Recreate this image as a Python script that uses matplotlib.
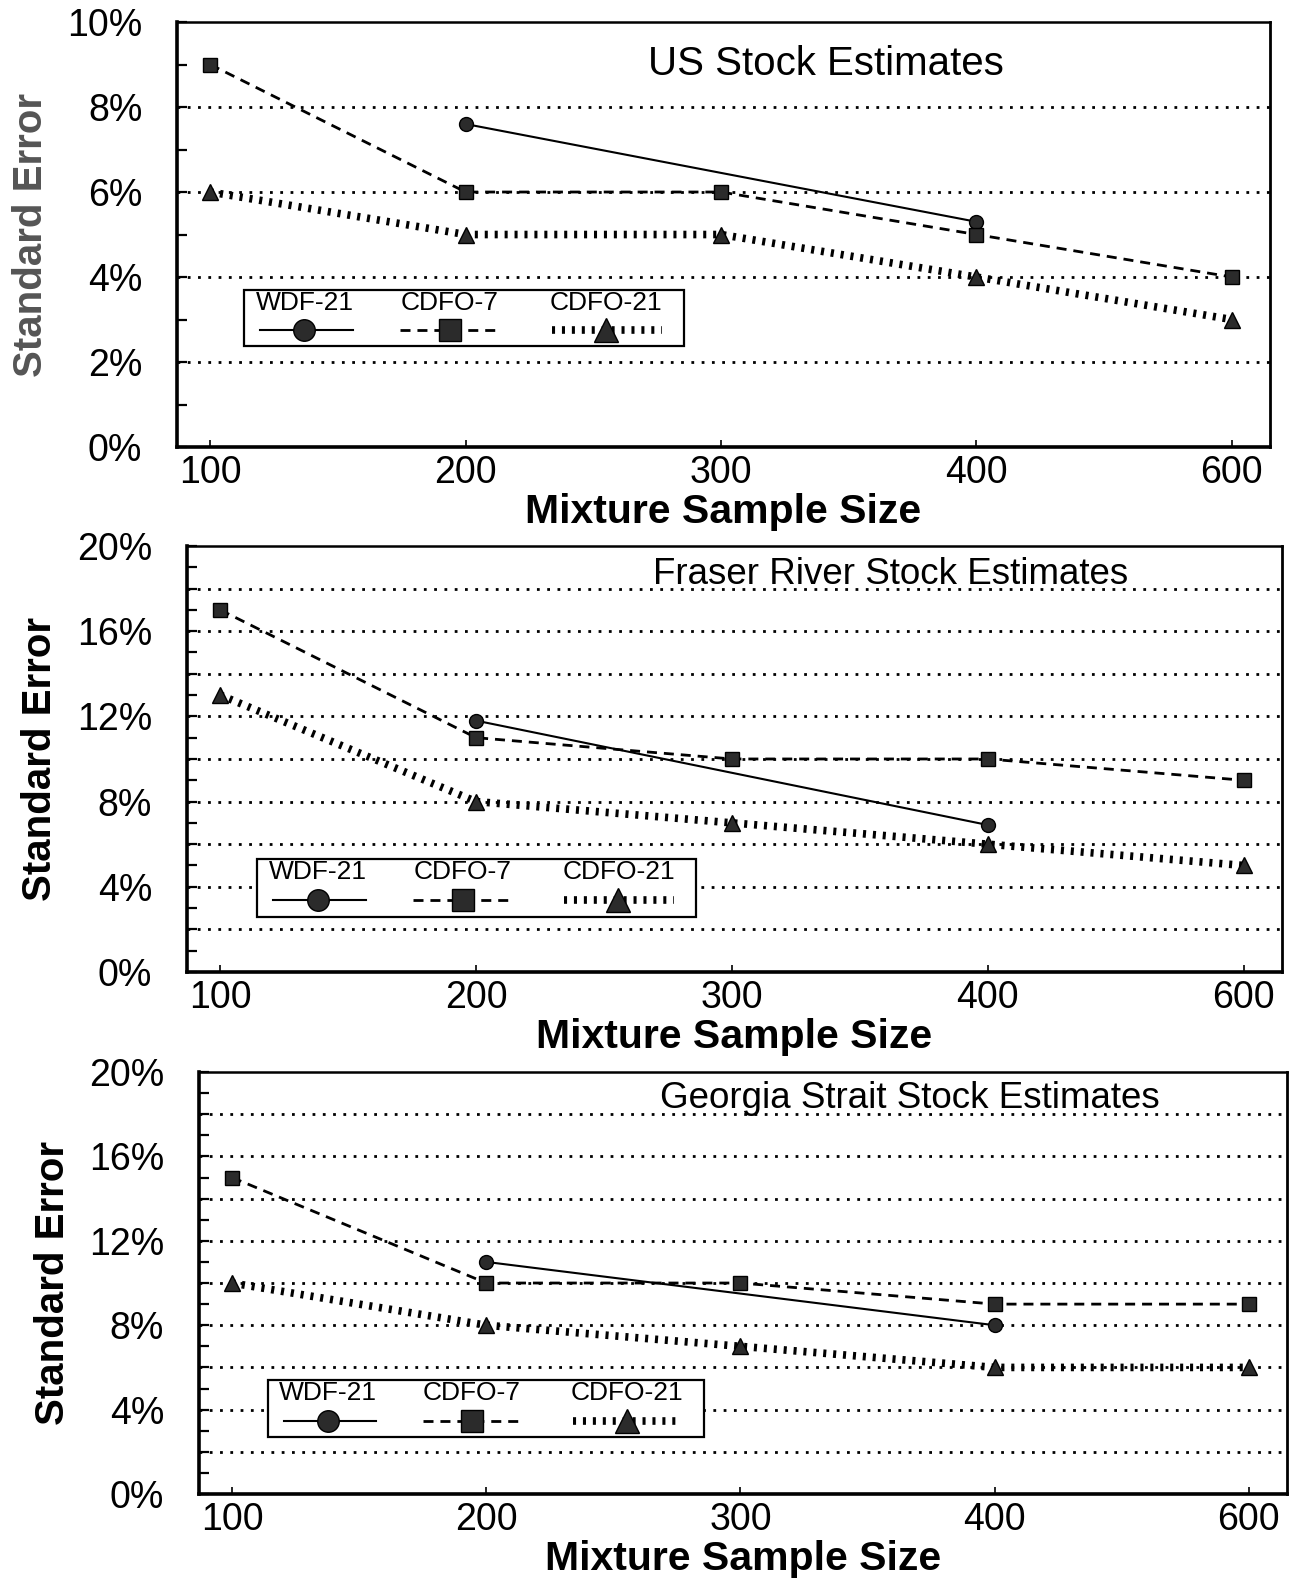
import matplotlib
matplotlib.use('Agg')
import matplotlib.pyplot as plt
from matplotlib.lines import Line2D
from matplotlib.patches import Rectangle
from matplotlib.ticker import MultipleLocator, FuncFormatter

plt.rcParams['font.family'] = ['Liberation Sans', 'DejaVu Sans']

# ---------------- data ----------------
sample_sizes = ['100', '200', '300', '400', '600']
series_names = ['WDF-21', 'CDFO-7', 'CDFO-21']
panel_titles = ['US Stock Estimates', 'Fraser River Stock Estimates',
                'Georgia Strait Stock Estimates']

us_wdf21 = [None, 7.6, None, 5.3, None]
us_cdfo7 = [9.0, 6.0, 6.0, 5.0, 4.0]
us_cdfo21 = [6.0, 5.0, 5.0, 4.0, 3.0]

fraser_wdf21 = [None, 11.8, None, 6.9, None]
fraser_cdfo7 = [17.0, 11.0, 10.0, 10.0, 9.0]
fraser_cdfo21 = [13.0, 8.0, 7.0, 6.0, 5.0]

georgia_wdf21 = [None, 11.0, None, 8.0, None]
georgia_cdfo7 = [15.0, 10.0, 10.0, 9.0, 9.0]
georgia_cdfo21 = [10.0, 8.0, 7.0, 6.0, 6.0]

panel_data = [
    [us_wdf21, us_cdfo7, us_cdfo21],
    [fraser_wdf21, fraser_cdfo7, fraser_cdfo21],
    [georgia_wdf21, georgia_cdfo7, georgia_cdfo21],
]
y_max = [10, 20, 20]
y_label_step = [2, 4, 4]

# ---------------- styles / layout ----------------
MARK_FACE = '#2b2b2b'
styles = {
    'WDF-21': dict(ls='-', lw=1.5, marker='o', ms=10),
    'CDFO-7': dict(ls=(0, (3.6, 2.5)), lw=2.0, marker='s', ms=10),
    'CDFO-21': dict(ls=(0, (0.4, 0.9)), lw=5.5, marker='^', ms=11),
}
axes_rects = [
    [0.137, 0.7176, 0.846, 0.2685],
    [0.1447, 0.3860, 0.8476, 0.2691],
    [0.1540, 0.0562, 0.8421, 0.2666],
]
title_pos = [(0.431, 0.901, 29), (0.426, 0.934, 26.5), (0.424, 0.938, 26.5)]
legend_box = [(0.061, 0.238, 0.403, 0.131),
              (0.064, 0.129, 0.401, 0.136),
              (0.063, 0.135, 0.401, 0.135)]
ylabel_colors = ['#555555', 'black', 'black']

fig = plt.figure(figsize=(12.92, 15.83), dpi=100)

def pct(v, _):
    return f'{int(round(v))}%'

for p in range(3):
    ax = fig.add_axes(axes_rects[p])
    x_idx = list(range(len(sample_sizes)))
    for name, vals in zip(series_names, panel_data[p]):
        xs = [i for i, v in zip(x_idx, vals) if v is not None]
        ys = [v for v in vals if v is not None]
        st = styles[name]
        ax.plot(xs, ys, color='black', linestyle=st['ls'], linewidth=st['lw'],
                marker=st['marker'], markersize=st['ms'],
                markerfacecolor=MARK_FACE, markeredgecolor='black',
                markeredgewidth=1.0, zorder=4, dash_capstyle='butt')

    # grid lines at every 2%
    for g in range(2, y_max[p], 2):
        ax.axhline(g, color='black', lw=2.0, ls=(0, (1, 2.7)), zorder=1)

    ax.set_xlim(-0.13, 4.15)
    ax.set_ylim(0, y_max[p])
    ax.set_xticks(x_idx)
    ax.set_xticklabels(sample_sizes)
    ax.yaxis.set_major_locator(MultipleLocator(y_label_step[p]))
    ax.yaxis.set_minor_locator(MultipleLocator(1))
    ax.yaxis.set_major_formatter(FuncFormatter(pct))
    ax.tick_params(axis='y', which='both', direction='in', length=7, width=1.6,
                   right=False, labelsize=27, pad=25)
    ax.tick_params(axis='x', which='both', direction='in', length=5, width=1.2,
                   top=False, labelsize=27, pad=5.5)
    for s, w in zip(['left', 'bottom', 'top', 'right'], [2.6, 2.6, 1.8, 2.0]):
        ax.spines[s].set_linewidth(w)

    ax.set_xlabel('Mixture Sample Size', fontsize=29.5, fontweight='bold',
                  labelpad=2)
    ax.set_ylabel('Standard Error', fontsize=29, fontweight='bold',
                  color=ylabel_colors[p], va='center')
    ax.yaxis.set_label_coords(-0.134, 0.5)

    tx, ty, tfs = title_pos[p]
    ax.text(tx, ty, panel_titles[p], transform=ax.transAxes, fontsize=tfs,
            ha='left', va='center')

    # legend: labels above line samples
    bx, by, bw, bh = legend_box[p]
    ax.add_patch(Rectangle((bx, by), bw, bh, transform=ax.transAxes,
                           facecolor='white', edgecolor='black', lw=1.6,
                           zorder=5))
    label_cx = [0.138, 0.468, 0.823]
    seg = [(0.037, 0.248), (0.356, 0.576), (0.70, 0.95)]
    for k, name in enumerate(series_names):
        st = styles[name]
        cx = bx + label_cx[k] * bw
        ax.text(cx, by + 0.77 * bh, name, transform=ax.transAxes,
                fontsize=19, ha='center', va='center', zorder=6)
        x0, x1 = bx + seg[k][0] * bw, bx + seg[k][1] * bw
        yy = by + 0.29 * bh
        ax.add_line(Line2D([x0, x1], [yy, yy], transform=ax.transAxes,
                           color='black', linestyle=st['ls'],
                           linewidth=st['lw'], zorder=6,
                           dash_capstyle='butt'))
        ax.add_line(Line2D([cx], [yy], transform=ax.transAxes,
                           marker=st['marker'], markersize=st['ms'] * 1.55,
                           markerfacecolor=MARK_FACE, markeredgecolor='black',
                           linestyle='none', zorder=7))

fig.savefig('out.png', dpi=100)
